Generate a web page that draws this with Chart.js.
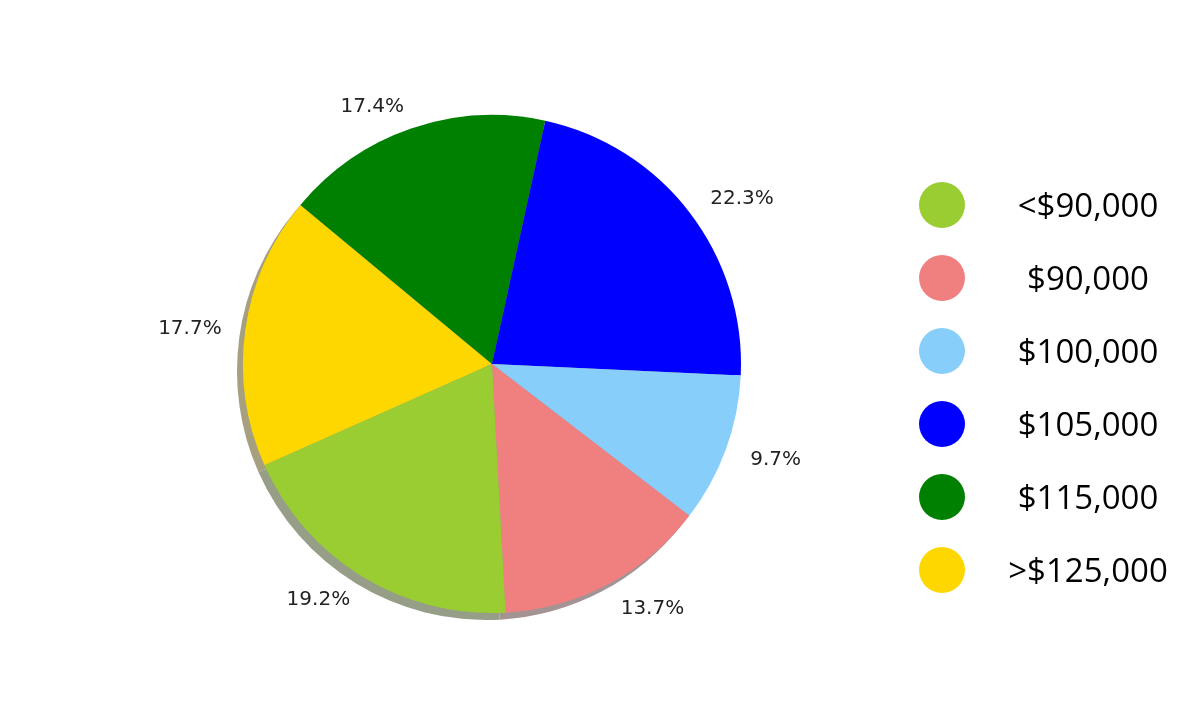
<!DOCTYPE html>
<html>
<head>
<meta charset="utf-8">
<script src="https://cdn.jsdelivr.net/npm/chart.js@4.4.0/dist/chart.umd.min.js"></script>
<style>
  body { margin: 0; background: #fff; }
  #wrap { width: 1192px; height: 720px; }
</style>
</head>
<body>
<div id="wrap"><canvas id="salaryPie" width="1192" height="720"></canvas></div>
<script>
// legend order (matplotlib order, counter-clockwise)
const salaryLabels = ['<$90,000', '$90,000', '$100,000', '$105,000', '$115,000', '>$125,000'];
const salaryShares = [19.2, 13.7, 9.7, 22.3, 17.4, 17.7];
const sliceColors = ['#9acd32', '#f08080', '#87cefa', '#0000ff', '#008000', '#ffd700'];

// Chart.js draws clockwise, so feed the slices reversed
const drawLabels = salaryLabels.slice().reverse();
const drawShares = salaryShares.slice().reverse();
const drawColors = sliceColors.slice().reverse();

// darkened, half transparent copy of a colour, blended on white
function shadowColor(hex) {
    const n = parseInt(hex.slice(1), 16);
    const r = (n >> 16) & 255, g = (n >> 8) & 255, b = n & 255;
    const f = c => Math.round(c * 0.15 + 127.5);
    return 'rgb(' + f(r) + ',' + f(g) + ',' + f(b) + ')';
}

// grey drop shadow under the pie
const pieShadow = {
    id: 'pieShadow',
    beforeDatasetsDraw(chart) {
        const ctx = chart.ctx;
        const meta = chart.getDatasetMeta(0);
        meta.data.forEach((arc, i) => {
            const p = arc.getProps(['x', 'y', 'startAngle', 'endAngle', 'outerRadius'], true);
            const x = p.x - 6, y = p.y + 7;
            ctx.save();
            ctx.beginPath();
            ctx.moveTo(x, y);
            ctx.arc(x, y, p.outerRadius, p.startAngle, p.endAngle);
            ctx.closePath();
            ctx.fillStyle = shadowColor(drawColors[i]);
            ctx.fill();
            ctx.restore();
        });
    }
};

// percentage labels just outside each slice
const pctLabels = {
    id: 'pctLabels',
    afterDatasetsDraw(chart) {
        const ctx = chart.ctx;
        const meta = chart.getDatasetMeta(0);
        ctx.save();
        ctx.font = '20px "DejaVu Sans"';
        ctx.fillStyle = '#222';
        ctx.textBaseline = 'middle';
        meta.data.forEach((arc, i) => {
            const p = arc.getProps(['x', 'y', 'startAngle', 'endAngle', 'outerRadius'], true);
            const mid = (p.startAngle + p.endAngle) / 2;
            const d = p.outerRadius * 1.1;
            const cx = Math.cos(mid), cy = Math.sin(mid);
            ctx.textAlign = cx > 0 ? 'left' : 'right';
            ctx.fillText(drawShares[i].toFixed(1) + '%', p.x + cx * d + 1, p.y + cy * d + 2);
        });
        ctx.restore();
    }
};

// legend on the right: circles with centred text
const sideLegend = {
    id: 'sideLegend',
    afterDraw(chart) {
        const ctx = chart.ctx;
        ctx.save();
        ctx.font = '33px "Open Sans"';
        ctx.textAlign = 'center';
        ctx.textBaseline = 'middle';
        salaryLabels.forEach((label, i) => {
            const y = 205 + i * 73;
            ctx.beginPath();
            ctx.arc(942, y, 23, 0, Math.PI * 2);
            ctx.fillStyle = sliceColors[i];
            ctx.fill();
            ctx.fillStyle = '#000';
            ctx.fillText(label, 1088, y + 3);
        });
        ctx.restore();
    }
};

new Chart(document.getElementById('salaryPie'), {
    type: 'pie',
    data: {
        labels: drawLabels,
        datasets: [{
            data: drawShares,
            backgroundColor: drawColors,
            borderWidth: 0
        }]
    },
    options: {
        responsive: false,
        animation: false,
        rotation: -114,
        layout: { padding: { left: 243, right: 451, top: 115, bottom: 107 } },
        plugins: {
            legend: { display: false },
            tooltip: { enabled: false }
        }
    },
    plugins: [pieShadow, pctLabels, sideLegend]
});
</script>
</body>
</html>
